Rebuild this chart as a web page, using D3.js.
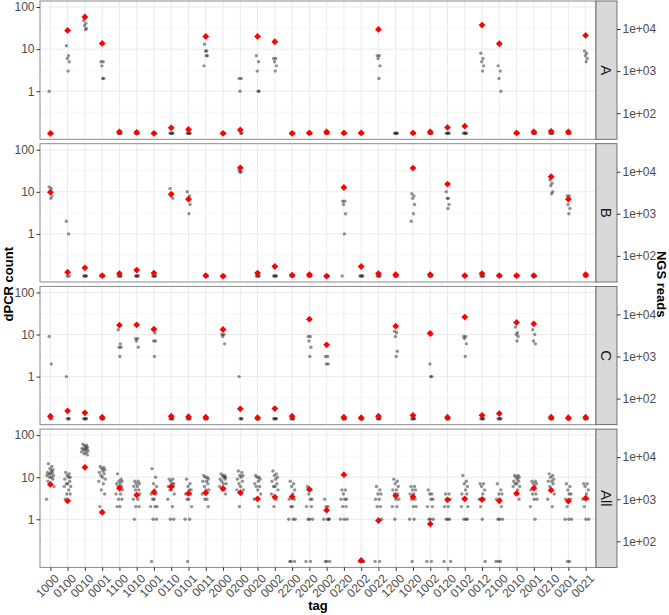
<!DOCTYPE html>
<html>
<head>
<meta charset="utf-8">
<script src="https://cdn.jsdelivr.net/npm/d3@7"></script>
<style>
  body { margin: 0; background: #fff; }
  text { font-family: "Liberation Sans", Arial, sans-serif; }
</style>
</head>
<body>
<div id="chart"></div>
<script>
// tags on the x axis
var tags = ["1000","0100","0010","0001","1100","1010","1001","0110","0101","0011",
            "2000","0200","0020","0002","2200","2020","2002","0220","0202","0022",
            "1200","1020","1002","0120","0102","0012","2100","2010","2001","0210","0201","0021"];

var panels = ["A", "B", "C", "All"];

// dPCR replicate counts per tag (0 = no droplets, drawn at 0.1)
var dpcrA = [[1,0,0,0],[12,7,6,5,3],[48,41,36,31,29],[5,5,4,2,2],[0,0,0,0],[0,0,0,0],[0,0,0,0],[0,0,0,0],
             [0,0,0,0],[13,9,9,7,7,4],[0,0,0,0],[2,2,1,0,0],[7,5,3,1,1],[6,6,5,4,3],[0,0,0,0],[0,0,0,0],
             [0,0,0,0],[0,0,0,0],[0,0,0,0],[7,7,6,4,2],[0,0,0,0],[0,0,0,0],[0,0,0,0],[0,0,0,0],
             [0,0,0,0],[8,6,5,4,3],[4,3,2,1],[0,0,0,0],[0,0,0,0],[0,0,0,0],[0,0,0,0],[9,8,7,6,5]];
var dpcrB = [[13,12,10,8,7],[2,1,0,0],[0,0,0,0],[0,0,0,0],[0,0,0,0],[0,0,0,0],[0,0,0,0],[12,9,8,7],
             [10,8,7,5,3],[0,0,0,0],[0,0,0,0],[32,30,29],[0,0,0,0],[0,0,0,0],[0,0,0,0],[0,0,0,0],
             [0,0,0,0],[6,6,5,3,1,0],[0,0,0,0],[0,0,0,0],[0,0,0,0],[9,8,7,5,3,2],[0,0,0,0],[10,7,7,5,4],
             [0,0,0,0],[0,0,0,0],[0,0,0,0],[0,0,0,0],[0,0,0,0],[19,16,14,10,9],[8,8,5,4,3],[0,0,0,0]];
var dpcrC = [[9,2,0,0],[1,0,0,0],[0,0,0,0],[0,0,0,0],[13,6,5,5,3],[8,8,7,5],[13,11,7,7,3],[0,0,0,0],
             [0,0,0,0],[0,0,0,0],[10,10,9,6],[1,0,0,0],[0,0,0,0],[0,0,0,0],[0,0,0,0],[9,9,7,5,3],
             [3,3,2,2],[0,0,0,0],[0,0,0,0],[0,0,0,0],[12,11,9,4,3],[0,0,0,0],[11,10,2,1,1],[0,0,0,0],
             [9,9,8,6,3],[0,0,0,0],[0,0,0,0],[15,11,10,9,7],[13,10,7,6],[0,0,0,0],[0,0,0,0],[0,0,0,0]];
var dpcrAll = [
  [21,18,16,15,14,13,13,12,12,11,11,10,10,9,8,7,6,3],
  [13,12,11,10,10,9,8,7,7,6,6,5,4,4,3],
  [61,58,55,52,50,48,47,45,44,42,40,38,36,34],
  [18,17,16,15,14,13,12,11,10,9,8,7,5,4,2],
  [12,9,8,8,7,7,6,6,5,5,4,4,3,3,2,2],
  [8,8,7,7,6,6,5,5,4,4,3,3,2,2,1],
  [16,10,7,6,5,4,4,3,3,2,2,2,1,1,0],
  [9,9,8,7,7,6,6,5,5,4,3,2,1,1],
  [9,7,6,5,5,4,4,3,3,2,1,1,0],
  [11,10,10,9,8,8,7,6,5,5,4,3,3,2],
  [12,11,11,10,10,9,9,8,7,7,6,5,5,4],
  [14,13,11,11,10,9,8,7,6,5,5,4,2],
  [11,10,10,9,8,7,6,6,5,4,3,2],
  [14,12,11,10,9,8,7,6,6,5,4,3,2],
  [8,7,6,5,4,3,3,2,2,1,1,1,0,0,0],
  [6,5,4,3,3,2,2,1,1,1,0,0],
  [3,2,2,1,1,1,1,0,0,0],
  [5,5,4,3,3,3,2,2,1,1,1],
  [0,0,0,0,0],
  [6,5,4,4,3,3,2,2,1,1,0,0],
  [9,8,7,6,5,5,4,4,3,3,2,2,1],
  [6,6,5,5,4,4,3,3,2,2,1,1,0],
  [5,4,4,3,3,2,2,1,1,1,0,0],
  [4,4,3,3,2,2,1,1,1,0,0],
  [11,8,7,6,5,4,4,3,3,2,2,1,1,1],
  [7,7,6,5,4,3,3,2,1,0],
  [7,5,4,4,3,3,2,1,1,1,0,0,0],
  [11,11,10,10,9,8,8,7,7,6,6,5,4,3],
  [8,8,7,7,6,5,4,4,3,3,2,1],
  [12,11,10,9,8,8,7,6,5,4,3,2],
  [7,6,5,4,4,3,3,2,1,1,1,0,0],
  [7,7,6,5,4,3,3,2,1,1]
];

// NGS reads per tag (null = not measured)
var ngsA = [33,9270,19300,4540,36,35,33,45,41,6660,33,40,6660,4980,33,34,
            36,34,34,9800,null,34,36,46,49,12400,4460,34,36,37,36,7030];
var ngsB = [3270,41,52,34,38,46,39,2930,2230,34,33,12400,39,56,35,36,
            33,4220,56,38,36,12200,36,5070,34,38,34,34,34,7580,2220,36];
var ngsC = [38,51,46,36,5550,5660,4460,38,37,36,4380,57,35,58,38,7720,
            1890,36,35,38,5250,40,3520,36,8620,40,44,6430,5970,36,35,36];
var ngsAll = [2240,913,5720,489,1830,1250,1470,1980,1370,1420,1800,1440,1020,1120,1140,1710,
              547,3820,35,310,1200,1140,258,966,1020,983,913,1370,1830,1640,897,1059];

var dpcrData = [dpcrA, dpcrB, dpcrC, dpcrAll];
var ngsData = [ngsA, ngsB, ngsC, ngsAll];

var ngsPerCount = 333;   // secondary axis: NGS reads = dPCR count * 333
var zeroValue = 0.1;

function init() {
    var w = 669, h = 615;
    var left = 40, right = 596, stripW = 21;
    var panelTop = 1, panelH = 138.3, panelStep = 142.7;

    var svg = d3.select("#chart").append("svg")
        .attr("width", w).attr("height", h);

    var x = d3.scalePoint().domain(tags).range([left, right]).padding(0.6);

    var diamond = "M0,-3.4L3.4,0L0,3.4L-3.4,0Z";
    var jitter = [-1.5, 1.2, -0.4, 2.0, 0.6, -2.2, 1.6, -1.0, 0.2, 2.4, -2.6, 0.9, -0.7, 1.9, -1.8, 0.4, 2.8, -2.9, 1.1, -0.2];

    panels.forEach(function(name, p) {
        var top = panelTop + p * panelStep;
        var y = d3.scaleLog()
            .domain([Math.pow(10, -1.143), Math.pow(10, 2.143)])
            .range([top + panelH, top]);
        var y2 = d3.scaleLog()
            .domain(y.domain().map(function(d) { return d * ngsPerCount; }))
            .range(y.range());

        var g = svg.append("g");

        // grid
        g.selectAll(".minor").data([Math.pow(10, -0.5), Math.pow(10, 0.5), Math.pow(10, 1.5)])
            .enter().append("line")
            .attr("x1", left).attr("x2", right)
            .attr("y1", function(d) { return y(d); }).attr("y2", function(d) { return y(d); })
            .attr("stroke", "#f0f0f0").attr("stroke-width", 0.6);
        g.selectAll(".major").data([1, 10, 100])
            .enter().append("line")
            .attr("x1", left).attr("x2", right)
            .attr("y1", function(d) { return y(d); }).attr("y2", function(d) { return y(d); })
            .attr("stroke", "#ebebeb").attr("stroke-width", 1);
        g.selectAll(".vgrid").data(tags)
            .enter().append("line")
            .attr("x1", function(d) { return x(d); }).attr("x2", function(d) { return x(d); })
            .attr("y1", top).attr("y2", top + panelH)
            .attr("stroke", "#ebebeb").attr("stroke-width", 1);

        // dPCR replicates
        var pts = [];
        dpcrData[p].forEach(function(vals, i) {
            vals.forEach(function(v, j) {
                pts.push({ tag: tags[i], v: v, j: j });
            });
        });
        var spread = name === "All" ? 1.3 : 0.8;
        g.selectAll(".pt").data(pts)
            .enter().append("circle")
            .attr("cx", function(d) { return x(d.tag) + jitter[d.j % jitter.length] * spread; })
            .attr("cy", function(d) { return y(d.v === 0 ? zeroValue : d.v); })
            .attr("r", 1.7)
            .attr("fill", "#000")
            .attr("fill-opacity", 0.42);

        // NGS reads
        var reds = ngsData[p].map(function(r, i) { return { tag: tags[i], r: r }; })
            .filter(function(d) { return d.r !== null; });
        g.selectAll(".ngs").data(reds)
            .enter().append("path")
            .attr("d", diamond)
            .attr("transform", function(d) { return "translate(" + x(d.tag) + "," + y2(d.r) + ")"; })
            .attr("fill", "#ff0000");

        // panel border
        g.append("rect")
            .attr("x", left).attr("y", top)
            .attr("width", right - left).attr("height", panelH)
            .attr("fill", "none").attr("stroke", "#8a8a8a").attr("stroke-width", 1);

        // strip
        g.append("rect")
            .attr("x", right).attr("y", top)
            .attr("width", stripW).attr("height", panelH)
            .attr("fill", "#d9d9d9").attr("stroke", "#555").attr("stroke-width", 0.8);
        g.append("text")
            .attr("transform", "translate(" + (right + stripW / 2) + "," + (top + panelH / 2) + ") rotate(90)")
            .attr("text-anchor", "middle").attr("dy", "0.35em")
            .style("font-size", "15px").attr("fill", "#1a1a1a")
            .text(name);

        // left axis
        var ax = g.append("g")
            .attr("transform", "translate(" + left + ",0)")
            .call(d3.axisLeft(y).tickValues([1, 10, 100]).tickFormat(d3.format("d"))
                .tickSizeOuter(0).tickSize(3.5).tickPadding(2));
        // right axis
        var ax2 = g.append("g")
            .attr("transform", "translate(" + (right + stripW) + ",0)")
            .call(d3.axisRight(y2).tickValues([100, 1000, 10000])
                .tickFormat(function(d) { return "1e+0" + Math.round(Math.log10(d)); })
                .tickSizeOuter(0).tickSize(3.5).tickPadding(2));
        [ax, ax2].forEach(function(a) {
            a.select(".domain").remove();
            a.selectAll("line").attr("stroke", "#333");
            a.selectAll("text").attr("fill", "#4d4d4d").style("font-size", "12px")
                .style("font-family", "'Liberation Sans', Arial, sans-serif");
        });

        // bottom axis on last panel
        if (p === panels.length - 1) {
            var bx = g.append("g")
                .attr("transform", "translate(0," + (top + panelH) + ")")
                .call(d3.axisBottom(x).tickSizeOuter(0).tickSize(3.5));
            bx.select(".domain").remove();
            bx.selectAll("line").attr("stroke", "#333");
            bx.selectAll("text")
                .attr("fill", "#4d4d4d").style("font-size", "12px")
                .style("font-family", "'Liberation Sans', Arial, sans-serif")
                .attr("text-anchor", "end")
                .attr("y", 0).attr("dy", "0.7em")
                .attr("transform", "translate(3,6) rotate(-45)");
        }
    });

    // axis titles
    svg.append("text")
        .attr("transform", "translate(13," + (panelTop + (3 * panelStep + panelH) / 2) + ") rotate(-90)")
        .attr("text-anchor", "middle")
        .style("font-size", "13px").style("font-weight", "bold")
        .text("dPCR count");
    svg.append("text")
        .attr("transform", "translate(657," + (panelTop + (3 * panelStep + panelH) / 2) + ") rotate(90)")
        .attr("text-anchor", "middle")
        .style("font-size", "13px").style("font-weight", "bold")
        .text("NGS reads");
    svg.append("text")
        .attr("x", (left + right) / 2).attr("y", 610)
        .attr("text-anchor", "middle")
        .style("font-size", "13px").style("font-weight", "bold")
        .text("tag");
}

window.onload = init;
</script>
</body>
</html>
